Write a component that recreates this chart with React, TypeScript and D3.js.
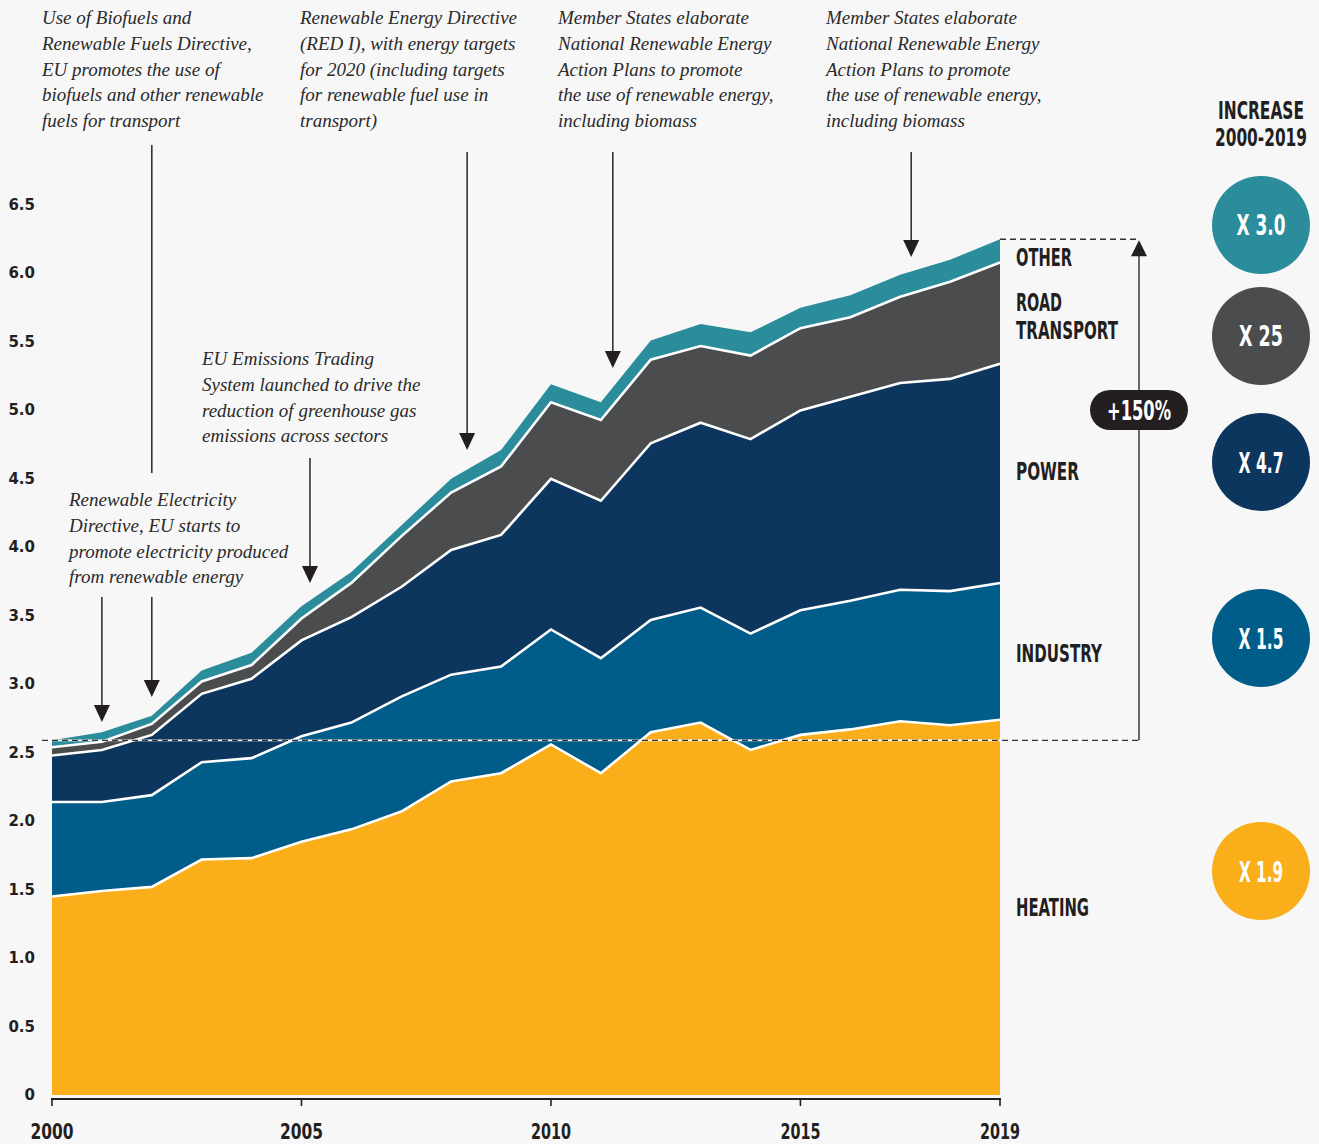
import React, { useLayoutEffect, useRef, useState } from "react";
import * as d3 from "d3";

// ---------- DATA ----------
const years = [2000, 2001, 2002, 2003, 2004, 2005, 2006, 2007, 2008, 2009, 2010, 2011, 2012, 2013, 2014, 2015, 2016, 2017, 2018, 2019];
const heating = [1.45, 1.49, 1.52, 1.72, 1.73, 1.85, 1.94, 2.07, 2.29, 2.35, 2.56, 2.35, 2.65, 2.72, 2.52, 2.63, 2.67, 2.73, 2.70, 2.74];
const industry = [0.69, 0.65, 0.67, 0.71, 0.73, 0.77, 0.78, 0.84, 0.78, 0.78, 0.84, 0.84, 0.82, 0.84, 0.85, 0.91, 0.94, 0.96, 0.98, 1.00];
const power = [0.34, 0.38, 0.44, 0.50, 0.58, 0.70, 0.77, 0.80, 0.91, 0.96, 1.10, 1.15, 1.29, 1.35, 1.42, 1.46, 1.49, 1.51, 1.55, 1.60];
const roadTransport = [0.06, 0.06, 0.08, 0.09, 0.10, 0.16, 0.25, 0.37, 0.42, 0.50, 0.56, 0.59, 0.61, 0.56, 0.61, 0.60, 0.58, 0.63, 0.71, 0.74];
const other = [0.05, 0.07, 0.06, 0.08, 0.09, 0.09, 0.08, 0.08, 0.10, 0.12, 0.13, 0.13, 0.14, 0.16, 0.17, 0.15, 0.16, 0.16, 0.16, 0.17];

const seriesKeys = ["heating", "industry", "power", "road", "other"];
const seriesLabels = [["HEATING"], ["INDUSTRY"], ["POWER"], ["ROAD", "TRANSPORT"], ["OTHER"]];
const seriesColors = ["#f9ae1a", "#005d8a", "#0d365f", "#4b4c4e", "#2b8c9c"];
const increaseLabels = ["X 1.9", "X 1.5", "X 4.7", "X 25", "X 3.0"];

const yTicks = [0, 0.5, 1, 1.5, 2, 2.5, 3, 3.5, 4, 4.5, 5, 5.5, 6, 6.5];
const yTickLabels = ["0", "0.5", "1.0", "1.5", "2.0", "2.5", "3.0", "3.5", "4.0", "4.5", "5.0", "5.5", "6.0", "6.5"];
const xTicks = [2000, 2005, 2010, 2015, 2019];
const totalIncreaseLabel = "+150%";
const increaseTitle = ["INCREASE", "2000-2019"];

const annotationTexts = [
  ["Use of Biofuels and", "Renewable Fuels Directive,", "EU promotes the use of", "biofuels and other renewable", "fuels for transport"],
  ["Renewable Electricity", "Directive, EU starts to", "promote electricity produced", "from renewable energy"],
  ["EU Emissions Trading", "System launched to drive the", "reduction of greenhouse gas", "emissions across sectors"],
  ["Renewable Energy Directive", "(RED I), with energy targets", "for 2020 (including targets", "for renewable fuel use in", "transport)"],
  ["Member States elaborate", "National Renewable Energy", "Action Plans to promote", "the use of renewable energy,", "including biomass"],
  ["Member States elaborate", "National Renewable Energy", "Action Plans to promote", "the use of renewable energy,", "including biomass"],
];
const annotationYears = [2002, 2001, 2005.17, 2008.32, 2011.24, 2017.22];

// ---------- LAYOUT ----------
const W = 1319;
const H = 1144;
const BG = "#f7f7f7";
const INK = "#231f20";
const COND = "'DejaVu Sans Condensed', 'DejaVu Sans', sans-serif";
const SERIF = "'Liberation Serif', 'DejaVu Serif', serif";

const annotationLayout = [
  { tx: 42, ty: 18, segs: [[145, 473], [597, 697]] },
  { tx: 69, ty: 500, segs: [[597, 722]] },
  { tx: 202, ty: 359, segs: [[458, 583]] },
  { tx: 300, ty: 18, segs: [[152, 450]] },
  { tx: 558, ty: 18, segs: [[152, 368]] },
  { tx: 826, ty: 18, segs: [[152, 257]] },
];
const circleCenters = [871, 638, 462, 336, 225];

// approximate widths of the condensed display face in the reference
const condWidths: Record<string, number> = {
  OTHER: 56, ROAD: 46, TRANSPORT: 102, POWER: 63, INDUSTRY: 86, HEATING: 73,
  INCREASE: 86, "2000-2019": 92,
  "X 3.0": 49, "X 25": 44, "X 4.7": 45, "X 1.5": 45, "X 1.9": 44,
  "+150%": 64,
  "2000": 43, "2005": 43, "2010": 40, "2015": 40, "2019": 40,
};

function CondText(props: any) {
  const { children, size, x, y, anchor, fill, baseline } = props;
  const ref = useRef<SVGTextElement>(null);
  const [sx, setSx] = useState(0.7);
  const target = condWidths[String(children)];
  useLayoutEffect(() => {
    if (ref.current && target) {
      const nat = ref.current.getComputedTextLength();
      if (nat > 0) setSx(target / nat);
    }
  }, [target, size]);
  return (
    <text
      ref={ref}
      transform={`translate(${x},${y}) scale(${sx},1)`}
      x={0}
      y={0}
      textAnchor={anchor || "start"}
      fill={fill}
      fontFamily={COND}
      fontWeight={700}
      fontSize={size}
      dominantBaseline={baseline || "central"}
    >
      {children}
    </text>
  );
}

export default function App() {
  const x = d3.scaleLinear().domain([2000, 2019]).range([52, 1000]);
  const y = d3.scaleLinear().domain([0, 6.5]).range([1095, 205]);

  const rows = years.map((yr, i) => ({
    year: yr,
    heating: heating[i],
    industry: industry[i],
    power: power[i],
    road: roadTransport[i],
    other: other[i],
  }));
  const stacked = d3.stack<any>().keys(seriesKeys)(rows);
  const area = d3
    .area<any>()
    .x((d) => x(d.data.year))
    .y0((d) => y(d[0]))
    .y1((d) => y(d[1]));
  const line = d3
    .line<any>()
    .x((d) => x(d.data.year))
    .y((d) => y(d[1]));

  const last = years.length - 1;
  const startTotal = stacked[stacked.length - 1][0][1];
  const endTotal = stacked[stacked.length - 1][last][1];
  const yStart = y(startTotal);
  const yEnd = y(endTotal);
  const arrowX = 1139;
  const labelOffsets = [0, 2, -2, 3, 6];

  return (
    <div style={{ position: "absolute", left: 0, top: 0, width: W, height: H }}>
      <svg width={W} height={H} style={{ display: "block" }}>
        <rect x={0} y={0} width={W} height={H} fill={BG} />

        {/* areas */}
        {stacked.map((s, i) => (
          <path key={s.key} d={area(s) || ""} fill={seriesColors[i]} />
        ))}
        {stacked.slice(0, 4).map((s) => (
          <path key={"l" + s.key} d={line(s) || ""} fill="none" stroke="#ffffff" strokeWidth={2.6} strokeLinejoin="miter" />
        ))}

        {/* dashed reference lines */}
        <line x1={42} x2={x(2019)} y1={yStart} y2={yStart} stroke="#ffffff" strokeWidth={1.6} />
        <line x1={42} x2={arrowX} y1={yStart} y2={yStart} stroke="#333" strokeWidth={1.4} strokeDasharray="6,4" />
        <line x1={x(2019)} x2={arrowX} y1={yEnd} y2={yEnd} stroke="#333" strokeWidth={1.4} strokeDasharray="6,4" />
        <line x1={arrowX} x2={arrowX} y1={yStart} y2={yEnd + 16} stroke="#444" strokeWidth={1.6} />
        <polygon points={`${arrowX - 8},${yEnd + 17} ${arrowX + 8},${yEnd + 17} ${arrowX},${yEnd + 1}`} fill={INK} />
        <rect x={arrowX - 49} y={390} width={98} height={40} rx={20} fill={INK} />
        <CondText x={arrowX} y={411} anchor="middle" fill="#fff" size={27}>
          {totalIncreaseLabel}
        </CondText>

        {/* x axis */}
        <line x1={x(2000) - 1} x2={x(2019) + 1} y1={1099} y2={1099} stroke={INK} strokeWidth={2} />
        {xTicks.map((t) => (
          <g key={t}>
            <line x1={x(t)} x2={x(t)} y1={1098} y2={1106} stroke={INK} strokeWidth={1.6} />
            <CondText x={x(t)} y={1138.5} anchor="middle" fill={INK} size={21} baseline="alphabetic">
              {String(t)}
            </CondText>
          </g>
        ))}

        {/* y axis labels */}
        {yTicks.map((t, i) => (
          <text key={t} x={35} y={y(t)} textAnchor="end" dominantBaseline="central" fill={INK} fontFamily="'DejaVu Sans', sans-serif" fontWeight={700} fontSize={15}>
            {yTickLabels[i]}
          </text>
        ))}

        {/* series labels */}
        {stacked.map((s, i) => {
          const mid = y((s[last][0] + s[last][1]) / 2) + labelOffsets[i];
          const lines = seriesLabels[i];
          const lh = 28;
          return (
            <g key={"lab" + s.key}>
              {lines.map((ln, j) => (
                <CondText key={j} x={1016} y={mid + (j - (lines.length - 1) / 2) * lh} fill={INK} size={25}>
                  {ln}
                </CondText>
              ))}
            </g>
          );
        })}

        {/* increase header + circles */}
        {increaseTitle.map((t, j) => (
          <CondText key={t} x={1261} y={110 + j * 27} anchor="middle" fill={INK} size={25}>
            {t}
          </CondText>
        ))}
        {seriesKeys.map((k, i) => (
          <g key={"c" + k}>
            <circle cx={1261} cy={circleCenters[i]} r={49} fill={seriesColors[i]} />
            <CondText x={1261} y={circleCenters[i] + 1} anchor="middle" fill="#fff" size={28}>
              {increaseLabels[i]}
            </CondText>
          </g>
        ))}

        {/* annotations */}
        {annotationTexts.map((lines, i) => {
          const L = annotationLayout[i];
          const ax = x(annotationYears[i]);
          const segs = L.segs;
          const tip = segs[segs.length - 1][1];
          return (
            <g key={"a" + i}>
              {lines.map((ln, j) => (
                <text key={j} x={L.tx} y={L.ty + j * 25.8 + 6} fill="#2a2a2a" fontFamily={SERIF} fontStyle="italic" fontSize={19}>
                  {ln}
                </text>
              ))}
              {segs.map((sg, j) => (
                <line key={"s" + j} x1={ax} x2={ax} y1={sg[0]} y2={j === segs.length - 1 ? sg[1] - 14 : sg[1]} stroke="#333" strokeWidth={1.6} />
              ))}
              <polygon points={`${ax - 8},${tip - 17} ${ax + 8},${tip - 17} ${ax},${tip}`} fill={INK} />
            </g>
          );
        })}
      </svg>
    </div>
  );
}
